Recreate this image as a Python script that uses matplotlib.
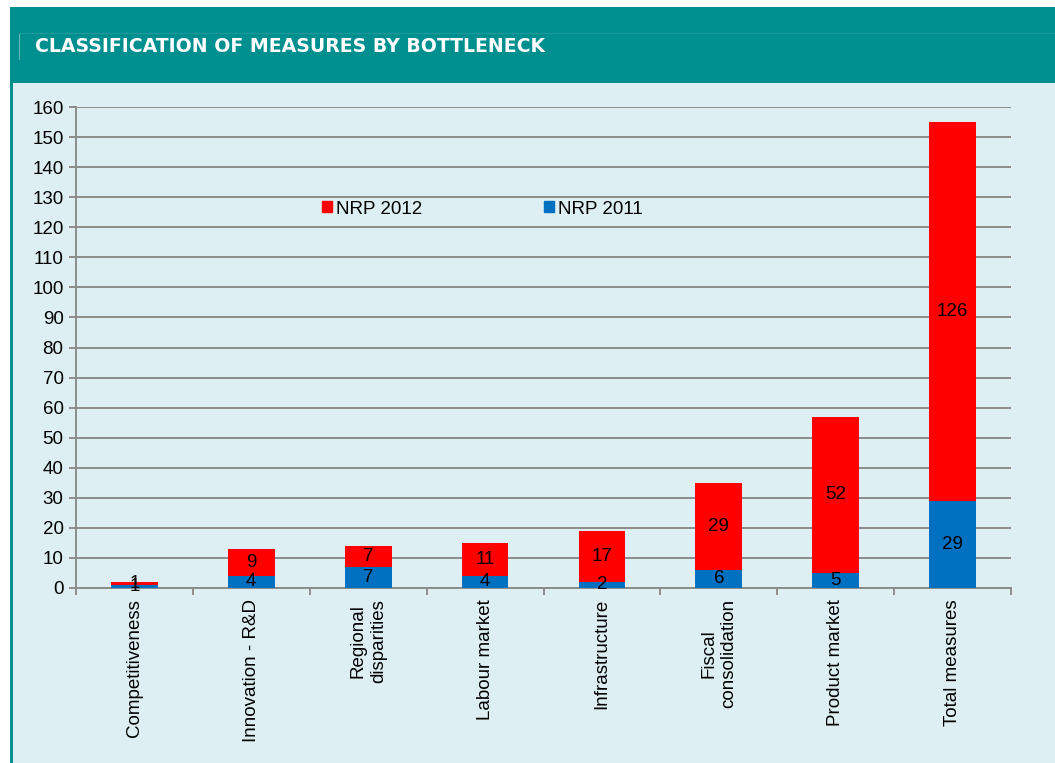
import matplotlib
matplotlib.use("Agg")
import matplotlib.pyplot as plt
from matplotlib.patches import Rectangle
import numpy as np

categories = ["Competitiveness", "Innovation - R&D", "Regional\ndisparities", "Labour market",
              "Infrastructure", "Fiscal\nconsolidation", "Product market", "Total measures"]
nrp2011 = [1, 4, 7, 4, 2, 6, 5, 29]
nrp2012 = [1, 9, 7, 11, 17, 29, 52, 126]
yticks = list(range(0, 161, 10))

W, H = 1055, 763
fig = plt.figure(figsize=(W / 100, H / 100), dpi=100)
fig.patch.set_facecolor("white")

def fx(x): return x / W
def fy(y): return 1 - y / H

teal = "#008F8F"
light = "#DDEFF2"
FS = 13.5
FONT = "Liberation Sans"
# header band
fig.add_artist(Rectangle((fx(10), fy(83)), fx(W) - fx(10), fy(7) - fy(83),
                         transform=fig.transFigure, facecolor=teal, edgecolor="none", zorder=0))
# light panel
fig.add_artist(Rectangle((fx(13), 0), 1 - fx(13), fy(83),
                         transform=fig.transFigure, facecolor=light, edgecolor="none", zorder=0))
# left teal border
fig.add_artist(Rectangle((fx(10), 0), fx(3), fy(83),
                         transform=fig.transFigure, facecolor=teal, edgecolor="none", zorder=0))
# thin decorative lines in header
fig.add_artist(plt.Line2D([fx(18.5), fx(18.5)], [fy(33), fy(59)], transform=fig.transFigure,
                          color="#5FB8B8", lw=0.8))
fig.add_artist(plt.Line2D([fx(18.5), fx(W)], [fy(33), fy(33)], transform=fig.transFigure,
                          color="#1A9A9A", lw=0.8))

fig.text(fx(35), fy(46), "CLASSIFICATION OF MEASURES BY BOTTLENECK", color="white",
         fontsize=13.6, fontweight="bold", family="DejaVu Sans", va="center", ha="left")

ax = fig.add_axes([fx(76), fy(588), fx(1011) - fx(76), fy(107) - fy(588)])
ax.set_facecolor("none")

x = np.arange(len(categories))
red = "#FF0000"
blue = "#0070C0"
width = 0.4
ax.bar(x, nrp2011, width, color=blue, zorder=3)
ax.bar(x, nrp2012, width, bottom=nrp2011, color=red, zorder=3)

for i in range(len(categories)):
    ax.text(x[i], nrp2011[i] / 2, str(nrp2011[i]), ha="center", va="center",
            fontsize=FS, family=FONT, color="black", zorder=4)
    ax.text(x[i], nrp2011[i] + nrp2012[i] / 2, str(nrp2012[i]), ha="center", va="center",
            fontsize=FS, family=FONT, color="black", zorder=4)

ax.set_xlim(-0.5, len(categories) - 0.5)
ax.set_ylim(0, 160)
ax.set_yticks(yticks)
ax.set_yticklabels([str(v) for v in yticks], fontsize=FS, family=FONT)
ax.yaxis.grid(True, color="#8C8C8C", lw=1.4, zorder=1)
ax.set_axisbelow(True)

ax.set_xticks(x)
ax.set_xticklabels(categories, rotation=90, fontsize=FS, family=FONT,
                   ha="center", va="top", multialignment="center", linespacing=1.25)
ax.tick_params(axis="x", which="major", length=0, pad=8)
ax.set_xticks(np.arange(-0.5, len(categories), 1.0), minor=True)
ax.tick_params(axis="x", which="minor", length=5, width=1.4, color="#8C8C8C", direction="out")
ax.tick_params(axis="y", length=5, width=1.4, color="#8C8C8C", direction="out", pad=4)

for s in ["top", "right"]:
    ax.spines[s].set_visible(False)
for s in ["left", "bottom"]:
    ax.spines[s].set_color("#8C8C8C")
    ax.spines[s].set_linewidth(1.4)

handles = [Rectangle((0, 0), 1, 1, color=red), Rectangle((0, 0), 1, 1, color=blue)]
fig.legend(handles, ["NRP 2012", "NRP 2011"], ncol=2, loc="center left",
           bbox_to_anchor=(fx(322), fy(209)), frameon=False,
           prop={"family": FONT, "size": FS},
           handlelength=0.53, handleheight=0.53, handletextpad=0.22,
           columnspacing=6.5, borderpad=0, borderaxespad=0)

fig.savefig("out.png", dpi=100, facecolor=fig.get_facecolor())
